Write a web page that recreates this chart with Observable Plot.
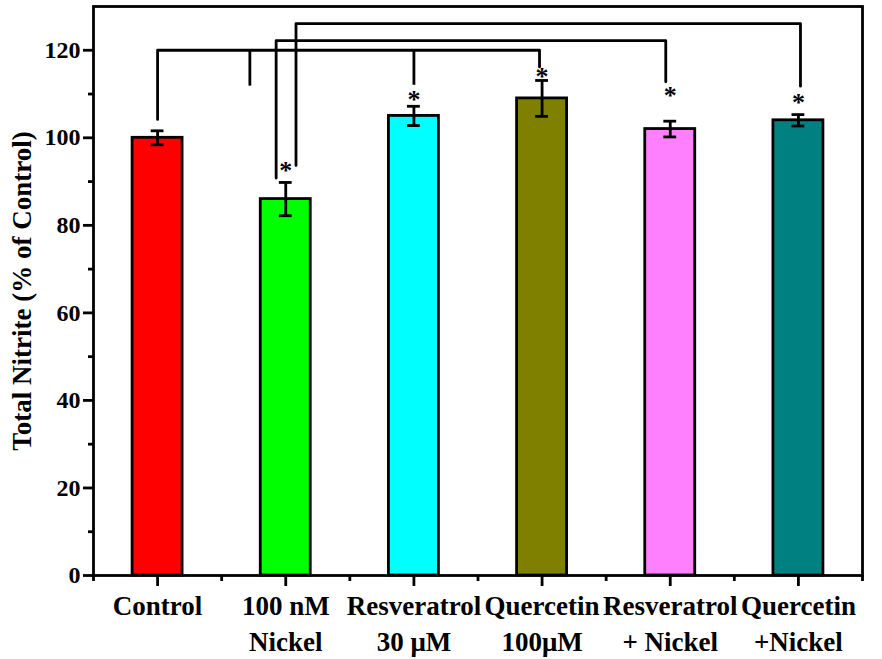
<!DOCTYPE html>
<html>
<head>
<meta charset="utf-8">
<script src="https://cdn.jsdelivr.net/npm/d3@7"></script>
<script src="https://cdn.jsdelivr.net/npm/@observablehq/plot@0.6"></script>
<style>
  html, body { margin: 0; padding: 0; background: white; }
</style>
</head>
<body>
<div id="chart"></div>
<script>
// ---- data ----
const categories = ["Control", "100 nM\nNickel", "Resveratrol\n30 μM", "Quercetin\n100μM", "Resveratrol\n+ Nickel", "Quercetin\n+Nickel"];
const values = [100, 86, 105, 109, 102, 104];
const errors = [1.6, 3.8, 2.2, 4.1, 1.8, 1.3];
const colors = ["#ff0000", "#00ff00", "#00ffff", "#808000", "#ff80ff", "#008080"];
const starY = [null, 93, 109.1, 114.5, 110, 108.4];
const yTicks = [0, 20, 40, 60, 80, 100, 120];
const yMinorTicks = [10, 30, 50, 70, 90, 110];
const yTitle = "Total Nitrite (% of Control)";

// significance brackets (x in category-index units, y in data units)
const bracketFrom = [0, 0.925, 1.08];
const bracketTo = [2.98, 3.965, 5.016];
const bracketTop = [120, 122.2, 126.1];
const bracketFromEnd = [104.2, 90.8, 93.7];
const bracketToEnd = [116.2, 112.8, 111.8];
const stubX = [0.72, 2.0];
const stubEnd = [111.8, 112];

// ---- derived tables ----
const bars = categories.map((c, i) => ({i, c, v: values[i], e: errors[i], color: colors[i]}));
const stars = starY.map((y, i) => ({i, y})).filter(d => d.y != null);
const bracketPts = [];
bracketFrom.forEach((f, k) => {
  bracketPts.push({k, x: f, y: bracketFromEnd[k]});
  bracketPts.push({k, x: f, y: bracketTop[k]});
  bracketPts.push({k, x: bracketTo[k], y: bracketTop[k]});
  bracketPts.push({k, x: bracketTo[k], y: bracketToEnd[k]});
});
const stubs = stubX.map((x, k) => ({x, y1: stubEnd[k], y2: bracketTop[0]}));
const majorX = categories.map((c, i) => i);
const minorX = d3.range(-0.5, categories.length, 1);

const font = "'Liberation Serif', 'Times New Roman', serif";
const sw = 2.8;

const chart = Plot.plot({
  width: 882,
  height: 659,
  marginLeft: 93,
  marginRight: 20,
  marginTop: 6,
  marginBottom: 84,
  style: {fontFamily: font, fontWeight: "bold", background: "white", color: "black"},
  x: {type: "linear", domain: [-0.5, categories.length - 0.5]},
  y: {domain: [0, 130]},
  marks: [
    Plot.rectY(bars, {x1: d => d.i - 0.195, x2: d => d.i + 0.195, y1: 0, y2: "v", fill: d => d.color, stroke: "black", strokeWidth: sw}),
    Plot.ruleX(bars, {x: "i", y1: d => d.v - d.e, y2: d => d.v + d.e, stroke: "black", strokeWidth: sw}),
    Plot.ruleY(bars, {y: d => d.v + d.e, x1: d => d.i - 0.05, x2: d => d.i + 0.05, stroke: "black", strokeWidth: sw}),
    Plot.ruleY(bars, {y: d => d.v - d.e, x1: d => d.i - 0.05, x2: d => d.i + 0.05, stroke: "black", strokeWidth: sw}),
    Plot.line(bracketPts, {x: "x", y: "y", z: "k", stroke: "black", strokeWidth: sw, curve: "linear"}),
    Plot.ruleX(stubs, {x: "x", y1: "y1", y2: "y2", stroke: "black", strokeWidth: sw}),
    Plot.text(stars, {x: "i", y: "y", text: () => "*", fontSize: 26, fontWeight: "bold", lineAnchor: "middle", dy: 2}),
    Plot.frame({stroke: "black", strokeWidth: sw}),
    Plot.axisY({ticks: yTicks, tickSize: 10, tickPadding: 3, fontSize: 24, fontWeight: "bold", strokeWidth: sw, label: null}),
    Plot.axisY({ticks: yMinorTicks, tickSize: 5, text: null, strokeWidth: sw, label: null}),
    Plot.axisX({ticks: majorX, tickFormat: i => categories[i], tickSize: 11, tickPadding: 4, fontSize: 27, fontWeight: "bold", lineHeight: 1.3, strokeWidth: sw, label: null}),
    Plot.axisX({ticks: minorX, tickSize: 6, text: null, strokeWidth: sw, label: null}),
    Plot.text([yTitle], {frameAnchor: "left", text: d => d, rotate: -90, dx: -71, textAnchor: "middle", fontSize: 27, fontWeight: "bold"})
  ]
});
document.getElementById("chart").appendChild(chart);
</script>
</body>
</html>
